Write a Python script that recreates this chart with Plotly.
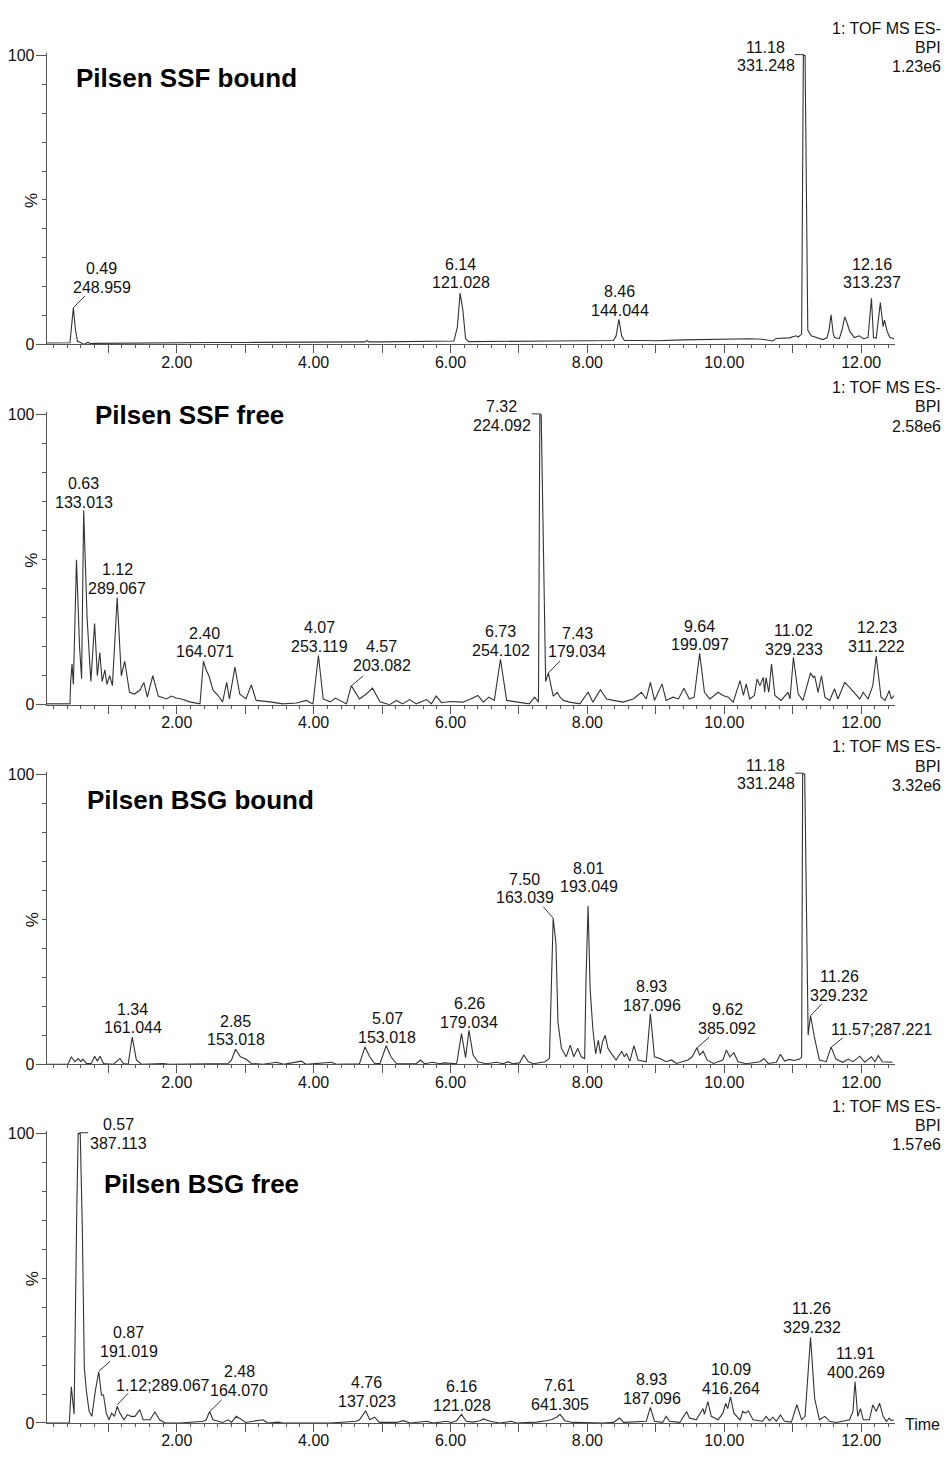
import plotly.graph_objects as go

W, H = 949, 1461
FONT = "Arial, 'Liberation Sans', sans-serif"
LINE = "#333333"
AXC = "#555555"

# ---------------- data: retention time (min) and relative intensity (%) ----------------
ssf_bound_t = [0.10, 0.40, 0.44, 0.47, 0.49, 0.52, 0.55, 0.60, 0.65, 0.70, 0.74, 0.80, 1.12, 1.50, 2.00,
               2.50, 3.00, 3.50, 4.00, 4.50, 4.75, 4.78, 4.81, 5.00, 5.50, 5.90, 6.05, 6.10, 6.14, 6.18,
               6.22, 6.27, 6.50, 7.00, 7.50, 8.00, 8.38, 8.42, 8.46, 8.50, 8.54, 8.80, 9.00, 9.40, 10.00,
               10.37, 10.55, 10.71, 10.76, 10.95, 11.05, 11.08, 11.13, 11.155, 11.18, 11.22, 11.27, 11.35,
               11.44, 11.50, 11.53, 11.56, 11.59, 11.61, 11.68, 11.72, 11.76, 11.80, 11.83, 11.90, 11.97,
               12.03, 12.10, 12.15, 12.18, 12.22, 12.25, 12.28, 12.32, 12.34, 12.38, 12.42, 12.48]
ssf_bound_i = [0.5, 0.5, 0.6, 8.0, 12.7, 5.0, 1.1, 0.6, 0.0, 0.8, 0.3, 0.4, 0.5, 0.6, 0.6,
               0.7, 0.7, 0.8, 0.8, 0.8, 0.9, 1.3, 0.9, 0.9, 1.0, 1.1, 1.2, 6.0, 17.8, 12.0,
               2.0, 1.0, 1.0, 1.1, 1.2, 1.3, 1.4, 3.0, 8.7, 3.0, 1.4, 1.4, 1.3, 1.6, 1.8,
               2.0, 1.8, 1.2, 2.1, 2.3, 3.0, 2.6, 3.6, 100.0, 100.0, 5.0, 3.0, 2.5,
               1.7, 2.3, 5.0, 10.3, 4.0, 2.4, 2.0, 5.0, 9.6, 7.0, 4.7, 2.4, 3.0,
               2.0, 2.4, 16.0, 2.4, 2.2, 8.0, 14.5, 6.2, 8.4, 4.5, 2.4, 2.0]

ssf_free_t = [0.10, 0.44, 0.45, 0.47, 0.49, 0.535, 0.58, 0.61, 0.64, 0.69, 0.745, 0.80, 0.84, 0.876, 0.91,
              0.95, 0.98, 1.02, 1.06, 1.13, 1.19, 1.24, 1.31, 1.38, 1.46, 1.52, 1.57, 1.65, 1.73, 1.85,
              1.92, 1.99, 2.07, 2.19, 2.34, 2.39, 2.43, 2.47, 2.53, 2.61, 2.67, 2.73, 2.77, 2.85, 2.92,
              3.01, 3.09, 3.16, 3.36, 3.55, 3.75, 3.89, 3.99, 4.07, 4.14, 4.24, 4.32, 4.48, 4.55, 4.67,
              4.77, 4.86, 4.97, 5.11, 5.21, 5.30, 5.40, 5.50, 5.65, 5.72, 5.79, 5.87, 5.99, 6.18, 6.28,
              6.40, 6.48, 6.56, 6.64, 6.73, 6.82, 6.97, 7.15, 7.23, 7.285, 7.305, 7.325, 7.39, 7.43,
              7.50, 7.56, 7.60, 7.65, 7.74, 7.89, 8.01, 8.08, 8.19, 8.28, 8.38, 8.52, 8.67, 8.79, 8.86,
              8.92, 8.98, 9.09, 9.15, 9.25, 9.33, 9.41, 9.49, 9.56, 9.64, 9.71, 9.79, 9.91, 9.98, 10.06,
              10.13, 10.18, 10.23, 10.28, 10.32, 10.37, 10.44, 10.48, 10.52, 10.57, 10.59, 10.61, 10.65,
              10.69, 10.74, 10.83, 10.93, 10.96, 11.01, 11.08, 11.15, 11.26, 11.30, 11.32, 11.37, 11.42,
              11.47, 11.54, 11.61, 11.66, 11.76, 11.83, 11.91, 11.98, 12.03, 12.10, 12.17, 12.22, 12.29,
              12.35, 12.41, 12.44, 12.48]
ssf_free_i = [0.3, 0.3, 8.0, 14.0, 7.0, 50.0, 20.0, 9.0, 67.0, 30.0, 8.0, 28.0, 10.0, 18.0, 8.0,
              12.0, 7.0, 10.0, 6.6, 37.0, 10.0, 15.0, 4.3, 3.7, 5.0, 7.7, 2.6, 10.0, 3.0, 2.0,
              3.0, 2.3, 2.0, 1.0, 0.3, 15.0, 12.0, 10.0, 5.0, 3.0, 1.0, 7.7, 2.0, 13.0, 3.7,
              2.0, 6.8, 1.5, 1.0, 0.3, 0.6, 1.5, 0.3, 17.0, 2.0, 1.0, 2.3, 0.3, 6.6, 2.0,
              3.7, 5.7, 1.0, 0.0, 1.5, 0.3, 1.8, 0.3, 1.8, 0.3, 3.0, 0.7, 1.1, 0.9, 1.8,
              3.2, 0.9, 2.6, 1.5, 15.7, 1.5, 0.9, 0.3, 2.6, 0.9, 100.0, 100.0, 8.0, 11.0,
              3.0, 4.3, 2.6, 1.5, 0.9, 0.3, 4.3, 0.9, 5.2, 2.0, 1.5, 0.9, 2.0, 4.3, 2.0,
              7.7, 1.5, 7.2, 1.5, 2.6, 2.0, 5.7, 2.0, 2.6, 17.7, 4.3, 2.0, 4.3, 3.2, 2.6,
              0.9, 4.3, 8.3, 3.2, 7.2, 2.0, 3.2, 8.9, 6.6, 9.4, 4.3, 9.4, 4.3,
              14.0, 3.2, 1.5, 4.3, 2.0, 16.3, 3.7, 1.5, 11.0, 9.4, 10.0, 4.3, 10.0,
              2.6, 1.5, 5.5, 2.0, 7.7, 6.0, 3.7, 2.0, 4.3, 2.0, 6.6, 16.8, 2.6,
              1.5, 4.9, 2.0, 3.2]

bsg_bound_t = [0.10, 0.41, 0.46, 0.51, 0.56, 0.60, 0.63, 0.68, 0.75, 0.80, 0.84, 0.88, 0.93, 1.07, 1.17,
               1.22, 1.29, 1.35, 1.41, 1.49, 1.80, 1.90, 2.75, 2.80, 2.86, 2.93, 3.01, 3.09, 3.26, 3.46,
               3.56, 3.82, 3.89, 4.26, 4.33, 4.67, 4.75, 4.82, 4.89, 4.97, 5.06, 5.13, 5.21, 5.50, 5.56,
               5.62, 5.74, 5.84, 5.91, 6.09, 6.16, 6.22, 6.27, 6.33, 6.40, 6.52, 6.67, 6.77, 6.84, 6.91,
               7.01, 7.07, 7.14, 7.21, 7.38, 7.445, 7.50, 7.54, 7.57, 7.62, 7.69, 7.75, 7.80, 7.86, 7.91,
               7.96, 7.98, 8.01, 8.04, 8.08, 8.12, 8.16, 8.19, 8.22, 8.26, 8.30, 8.35, 8.42, 8.50, 8.54,
               8.57, 8.62, 8.68, 8.74, 8.86, 8.92, 8.98, 9.06, 9.15, 9.23, 9.30, 9.47, 9.53, 9.60, 9.64,
               9.69, 9.75, 9.84, 9.98, 10.03, 10.08, 10.14, 10.20, 10.32, 10.52, 10.58, 10.64, 10.76,
               10.82, 10.88, 10.95, 11.02, 11.10, 11.13, 11.145, 11.175, 11.225, 11.26, 11.32, 11.39,
               11.49, 11.56, 11.63, 11.73, 11.81, 11.88, 11.98, 12.05, 12.15, 12.20, 12.25, 12.31, 12.46]
bsg_bound_i = [0.0, 0.0, 2.6, 0.9, 2.0, 0.9, 1.8, 0.3, 0.3, 2.8, 1.1, 2.8, 0.3, 0.0, 2.0,
               0.3, 0.0, 9.4, 1.5, 0.0, 0.3, 0.0, 0.3, 1.5, 5.2, 2.6, 1.8, 0.3, 0.0, 0.7,
               0.0, 1.1, 0.0, 0.7, 0.0, 0.2, 6.0, 2.6, 0.3, 0.3, 6.4, 2.6, 0.2, 0.2, 1.5,
               0.2, 0.7, 0.2, 0.5, 0.2, 10.6, 2.3, 11.7, 3.2, 0.9, 0.2, 0.7, 0.2, 0.9, 0.2,
               0.5, 3.2, 0.9, 0.2, 0.9, 2.0, 50.3, 41.8, 14.5, 5.5, 2.6, 6.6, 2.6, 5.5, 2.6,
               2.0, 30.0, 54.5, 26.0, 12.0, 3.7, 8.3, 3.7, 7.7, 10.0, 5.5, 3.7, 1.5, 4.5, 2.6,
               3.7, 1.1, 6.4, 1.5, 0.9, 17.4, 2.6, 2.0, 0.9, 1.5, 0.3, 1.5, 2.6, 5.7, 3.2,
               4.5, 1.5, 0.3, 1.5, 4.9, 2.6, 4.0, 0.9, 0.2, 0.9, 2.0, 0.3, 0.7,
               3.5, 1.1, 1.7, 1.3, 1.8, 2.5, 100.0, 100.0, 10.0, 16.8, 8.9, 1.5,
               0.9, 6.0, 1.8, 0.7, 1.8, 0.9, 2.8, 0.7, 2.6, 0.9, 3.0, 0.9, 0.7]

bsg_free_t = [0.10, 0.43, 0.46, 0.50, 0.54, 0.56, 0.59, 0.62, 0.65, 0.68, 0.72, 0.76, 0.81, 0.86, 0.90,
              0.93, 0.97, 1.01, 1.05, 1.09, 1.13, 1.17, 1.23, 1.28, 1.33, 1.39, 1.46, 1.51, 1.61, 1.68,
              1.75, 1.83, 2.05, 2.29, 2.39, 2.43, 2.48, 2.53, 2.67, 2.75, 2.80, 2.87, 2.94, 3.01, 3.11,
              3.26, 3.33, 3.48, 3.55, 4.24, 4.62, 4.67, 4.76, 4.82, 4.89, 4.96, 5.21, 5.31, 5.41, 5.65,
              5.75, 5.94, 6.01, 6.09, 6.16, 6.23, 6.33, 6.43, 6.48, 6.58, 6.72, 6.89, 6.96, 7.26, 7.40,
              7.47, 7.55, 7.60, 7.67, 7.79, 8.23, 8.38, 8.47, 8.53, 8.86, 8.92, 8.98, 9.10, 9.15, 9.20,
              9.35, 9.45, 9.49, 9.59, 9.69, 9.71, 9.76, 9.81, 9.91, 9.98, 10.02, 10.05, 10.09, 10.14,
              10.23, 10.27, 10.31, 10.35, 10.42, 10.56, 10.61, 10.66, 10.71, 10.76, 10.82, 10.88, 10.98,
              11.06, 11.13, 11.18, 11.26, 11.32, 11.39, 11.47, 11.54, 11.64, 11.83, 11.88, 11.91, 11.95,
              11.99, 12.03, 12.12, 12.17, 12.22, 12.27, 12.32, 12.37, 12.41, 12.44, 12.48]
bsg_free_i = [0.0, 0.0, 12.5, 3.0, 75.0, 100.0, 100.0, 68.0, 19.0, 11.0, 4.0, 2.3, 11.0, 17.7, 9.7,
              9.7, 3.4, 1.1, 3.4, 2.3, 5.7, 3.4, 1.1, 2.9, 2.3, 2.3, 4.6, 1.1, 1.1, 3.8,
              1.1, 0.0, 0.0, 0.3, 0.6, 1.1, 4.0, 1.1, 0.2, 1.1, 0.2, 2.3, 1.1, 0.2, 0.6,
              1.1, 0.0, 0.3, 0.0, 0.0, 0.6, 1.1, 4.2, 1.1, 2.0, 0.2, 0.2, 0.8, 0.0, 0.6,
              0.0, 0.6, 0.2, 0.8, 3.0, 0.6, 0.3, 0.8, 1.4, 0.6, 0.0, 0.6, 0.0, 0.3, 0.8,
              1.1, 2.0, 3.0, 0.8, 0.2, 0.0, 0.2, 1.7, 0.2, 0.6, 5.4, 0.6, 0.2, 2.3, 0.6,
              0.2, 4.0, 1.7, 1.1, 5.0, 3.0, 7.4, 2.3, 1.1, 3.4, 6.8, 5.0, 9.0, 3.4,
              1.1, 4.0, 3.4, 4.2, 1.1, 0.6, 2.3, 0.8, 2.0, 0.6, 2.8, 0.6, 0.3,
              6.3, 1.1, 2.3, 29.6, 8.5, 1.1, 2.3, 0.6, 0.2, 1.1, 4.0, 14.3, 2.3,
              5.0, 1.1, 1.1, 6.3, 4.0, 6.8, 2.3, 0.6, 1.7, 0.8, 1.1]

titles = ["Pilsen SSF bound", "Pilsen SSF free", "Pilsen BSG bound", "Pilsen BSG free"]
scales = ["1.23e6", "2.58e6", "3.32e6", "1.57e6"]
header = ["1: TOF MS ES-", "BPI"]
x_ticks = list(range(1, 13))
x_ticktext = ["" if v % 2 else f"{v:.2f}" for v in x_ticks]

# peak labels: (text lines, label centre time, label centre %, leader tail (t, %), leader tip (t, %))
labels = [
    [(["0.49", "248.959"], 0.903, 23.1, (0.659, 16.8), (0.49, 12.7)),
     (["6.14", "121.028"], 6.153, 24.5, None, None),
     (["8.46", "144.044"], 8.476, 15.1, None, None),
     (["11.18", "331.248"], 10.606, 99.7, (11.03, 100.3), (11.165, 100.3)),
     (["12.16", "313.237"], 12.154, 24.5, None, None)],
    [(["0.63", "133.013"], 0.644, 73.1, None, None),
     (["1.12", "289.067"], 1.131, 43.4, None, None),
     (["2.40", "164.071"], 2.412, 21.5, None, None),
     (["4.07", "253.119"], 4.082, 23.4, None, None),
     (["4.57", "203.082"], 4.994, 16.8, (4.725, 10.0), (4.556, 6.6)),
     (["7.32", "224.092"], 6.748, 99.6, (7.186, 100.3), (7.315, 100.3)),
     (["6.73", "254.102"], 6.737, 21.9, None, None),
     (["7.43", "179.034"], 7.852, 21.4, (7.599, 15.1), (7.428, 10.9)),
     (["9.64", "199.097"], 9.645, 23.9, None, None),
     (["11.02", "329.233"], 11.018, 22.4, None, None),
     (["12.23", "311.222"], 12.227, 23.4, None, None)],
    [(["1.34", "161.044"], 1.356, 15.8, None, None),
     (["2.85", "153.018"], 2.865, 11.6, None, None),
     (["5.07", "153.018"], 5.076, 12.5, None, None),
     (["6.26", "179.034"], 6.276, 17.7, None, None),
     (["7.50", "163.039"], 7.088, 60.6, (7.355, 54.3), (7.502, 50.3)),
     (["8.01", "193.049"], 8.023, 64.4, None, None),
     (["8.93", "187.096"], 8.939, 23.5, None, None),
     (["9.62", "385.092"], 10.044, 15.6, (9.781, 9.4), (9.606, 5.7)),
     (["11.18", "331.248"], 10.609, 99.8, (11.033, 100.3), (11.16, 100.3)),
     (["11.26", "329.232"], 11.680, 27.0, (11.423, 20.8), (11.263, 16.8)),
     (["11.57;287.221"], 12.300, 12.0, (11.730, 9.1), (11.569, 6.0))],
    [(["0.57", "387.113"], 1.144, 99.8, (0.707, 100.3), (0.576, 100.3)),
     (["0.87", "191.019"], 1.302, 27.9, (1.024, 21.3), (0.864, 17.9)),
     (["1.12;289.067"], 1.803, 13.1, (1.292, 10.3), (1.131, 6.3)),
     (["2.48", "164.070"], 2.913, 14.5, (2.656, 8.0), (2.485, 4.0)),
     (["4.76", "137.023"], 4.775, 10.7, None, None),
     (["6.16", "121.028"], 6.167, 9.4, None, None),
     (["7.61", "641.305"], 7.599, 9.7, None, None),
     (["8.93", "187.096"], 8.939, 11.7, None, None),
     (["10.09", "416.264"], 10.094, 15.3, None, None),
     (["11.26", "329.232"], 11.277, 36.3, None, None),
     (["11.91", "400.269"], 11.920, 20.7, None, None)],
]

series = [(ssf_bound_t, ssf_bound_i), (ssf_free_t, ssf_free_i),
          (bsg_bound_t, bsg_bound_i), (bsg_free_t, bsg_free_i)]

# ---------------- layout geometry (pixels) ----------------
X_LEFT_PX, X_RIGHT_PX = 46.7, 895.4
X_RANGE = [0.1, 12.5]
Y_TOP = 100.8
panel_px = [(342.0, 50.0), (706.0, 413.0), (1069.3, 776.0), (1431.7, 1139.3)]  # (y=0 px, y=100 px)
title_px = [(74, 73), (92.7, 413), (85, 802), (101.7, 1190)]


def px_y(py):
    return 1 - py / H


fig = go.Figure()
annotations = []
shapes = []

for k, ((t, inten), (y0, y100)) in enumerate(zip(series, panel_px)):
    n = k + 1
    xa = "x" if n == 1 else f"x{n}"
    ya = "y" if n == 1 else f"y{n}"
    per = (y0 - y100) / 100.0
    fig.add_trace(go.Scatter(x=t, y=inten, mode="lines", xaxis=xa, yaxis=ya,
                             line=dict(color=LINE, width=1.1), showlegend=False,
                             hoverinfo="skip"))
    top_px = y100 - (Y_TOP - 100) * per
    fig.layout[f"xaxis{'' if n == 1 else n}"] = dict(
        domain=[X_LEFT_PX / W, X_RIGHT_PX / W], anchor=ya, range=X_RANGE,
        showgrid=False, zeroline=False, showline=True, linecolor=AXC, linewidth=1,
        tickmode="array", tickvals=x_ticks, ticktext=x_ticktext,
        ticks="outside", ticklen=8, tickwidth=1, tickcolor=AXC,
        ticklabelstandoff=-5,
        minor=dict(dtick=0.2, tick0=0, ticks="outside", ticklen=3, tickcolor=AXC, tickwidth=1),
        tickfont=dict(family=FONT, size=16, color="#111"), fixedrange=True)
    fig.layout[f"yaxis{'' if n == 1 else n}"] = dict(
        domain=[px_y(y0), px_y(top_px)], anchor=xa, range=[0, Y_TOP],
        showgrid=False, zeroline=False, showline=True, linecolor=AXC, linewidth=1,
        tickmode="array", tickvals=[0, 100], ticktext=["0", "100"],
        ticks="outside", ticklen=10, tickwidth=1, tickcolor=AXC,
        ticklabelstandoff=-2,
        minor=dict(dtick=10, tick0=0, ticks="outside", ticklen=4, tickcolor=AXC, tickwidth=1),
        tickfont=dict(family=FONT, size=16, color="#111"), fixedrange=True)

    # title
    tx, ty = title_px[k]
    annotations.append(dict(text=f"<b>{titles[k]}</b>", x=tx / W, y=px_y(ty), xref="paper",
                            yref="paper", xanchor="left", yanchor="middle", showarrow=False,
                            font=dict(family=FONT, size=26, color="#000")))
    # header
    for j, line in enumerate(header + [scales[k]]):
        annotations.append(dict(text=line, x=943 / W, y=px_y(y100 - 27.5 + 19.5 * j),
                                xref="paper", yref="paper", xanchor="right", yanchor="middle",
                                showarrow=False, font=dict(family=FONT, size=16, color="#111")))
    # % label
    annotations.append(dict(text="%", x=32 / W, y=px_y((y0 + y100) / 2), xref="paper",
                            yref="paper", xanchor="center", yanchor="middle", textangle=-90,
                            showarrow=False, font=dict(family=FONT, size=17, color="#111")))
    # peak labels
    for lines, cx, cy, tail, tip in labels[k]:
        if len(lines) == 1:
            shifts = [0]
        else:
            shifts = [9.3, -9.3]
        for line, s in zip(lines, shifts):
            annotations.append(dict(text=line, x=cx, y=cy, xref=xa, yref=ya, yshift=s,
                                    xanchor="center", yanchor="middle", showarrow=False,
                                    font=dict(family=FONT, size=16, color="#111")))
        if tail is not None:
            shapes.append(dict(type="line", xref=xa, yref=ya, x0=tail[0], y0=tail[1],
                               x1=tip[0], y1=tip[1], line=dict(color=LINE, width=1)))

annotations.append(dict(text="Time", x=903 / W, y=px_y(1433.3), xref="paper", yref="paper",
                        xanchor="left", yanchor="middle", showarrow=False,
                        font=dict(family=FONT, size=16, color="#111")))

fig.update_layout(width=W, height=H, margin=dict(l=0, r=0, t=0, b=0),
                  paper_bgcolor="white", plot_bgcolor="white",
                  annotations=annotations, shapes=shapes, showlegend=False)

fig.write_html("out.html", config={"displayModeBar": False},
               post_script="document.body.style.margin='0px';"
                           "document.body.style.overflow='hidden';")
